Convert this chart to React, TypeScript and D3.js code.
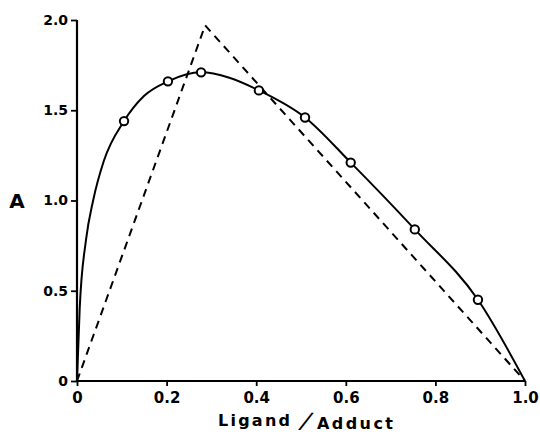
import React, { useEffect, useRef } from 'react'
import * as d3 from 'd3'

// measured points (open circles)
const pointX = [0.105, 0.203, 0.277, 0.406, 0.509, 0.611, 0.754, 0.895]
const pointY = [1.44, 1.66, 1.71, 1.61, 1.46, 1.21, 0.84, 0.45]

// smooth fitted curve
const curveX = [0, 0.006, 0.02, 0.036, 0.06, 0.105, 0.15, 0.203, 0.277, 0.34, 0.406, 0.509, 0.611, 0.754, 0.895, 1.0]
const curveY = [0, 0.4, 0.78, 1.0, 1.22, 1.44, 1.58, 1.66, 1.71, 1.68, 1.61, 1.46, 1.21, 0.84, 0.45, 0]

// extrapolated straight lines (dashed)
const dashX = [0, 0.286, 1.0]
const dashY = [0, 1.97, 0]

const yTicks = [0, 0.5, 1.0, 1.5, 2.0]
const yTickLabels = ['0', '0.5', '1.0', '1.5', '2.0']
const xTicks = [0, 0.2, 0.4, 0.6, 0.8, 1.0]
const xTickLabels = ['0', '0.2', '0.4', '0.6', '0.8', '1.0']

const App: React.FC = () => {
    const svgRef = useRef<SVGSVGElement>(null)
    const width = 540
    const height = 434

    useEffect(() => {
        if (!svgRef.current) return
        const svg = d3.select(svgRef.current)
        svg.selectAll('*').remove()

        const x = d3.scaleLinear().domain([0, 1]).range([77, 525])
        const y = d3.scaleLinear().domain([0, 2]).range([381, 20])
        const font = "'DejaVu Sans', sans-serif"

        // axes
        const yAxis = svg.append('g').attr('transform', `translate(${x(0)},0)`)
            .call(d3.axisLeft(y).tickValues(yTicks).tickSize(6).tickPadding(3)
                .tickFormat((_, i) => yTickLabels[i]))
        const xAxis = svg.append('g').attr('transform', `translate(0,${y(0)})`)
            .call(d3.axisBottom(x).tickValues(xTicks).tickSize(5).tickPadding(6)
                .tickFormat((_, i) => xTickLabels[i]))
        for (const ax of [yAxis, xAxis]) {
            ax.select('.domain').attr('stroke', '#000').attr('stroke-width', 2.2)
            ax.selectAll('.tick line').attr('stroke', '#000').attr('stroke-width', 1.8)
            ax.selectAll('.tick text').attr('fill', '#000')
                .style('font-family', font).style('font-weight', 'bold')
        }
        yAxis.select('.domain').attr('d', `M0,${y(0) + 1}V${y(2)}`)
        xAxis.select('.domain').attr('d', `M${x(0)},0H${x(1)}`)
        yAxis.selectAll('.tick text').style('font-size', '14px')
        xAxis.selectAll('.tick text').style('font-size', '15px')

        // dashed straight lines
        const line = d3.line<number>().x(i => x(dashX[i])).y(i => y(dashY[i]))
        svg.append('path')
            .attr('d', line(d3.range(dashX.length)))
            .attr('fill', 'none').attr('stroke', '#000').attr('stroke-width', 2)
            .attr('stroke-dasharray', '8,6')

        // solid curve
        const curve = d3.line<number>().x(i => x(curveX[i])).y(i => y(curveY[i]))
            .curve(d3.curveMonotoneX)
        svg.append('path')
            .attr('d', curve(d3.range(curveX.length)))
            .attr('fill', 'none').attr('stroke', '#000').attr('stroke-width', 2)

        // circles
        svg.selectAll('circle.pt').data(d3.range(pointX.length)).enter()
            .append('circle').attr('class', 'pt')
            .attr('cx', i => x(pointX[i])).attr('cy', i => y(pointY[i]))
            .attr('r', 4.2).attr('fill', '#fff').attr('stroke', '#000').attr('stroke-width', 2)

        // axis titles
        svg.append('text').attr('x', 17).attr('y', 208).attr('text-anchor', 'middle')
            .style('font-family', font).style('font-weight', 'bold').style('font-size', '20px')
            .text('A')
        svg.append('text').attr('x', 218).attr('y', 426)
            .attr('textLength', 72).attr('lengthAdjust', 'spacing')
            .style('font-family', font).style('font-weight', 'bold').style('font-size', '16px')
            .text('Ligand')
        svg.append('text')
            .attr('transform', 'translate(299,428) skewX(-25)')
            .style('font-family', font).style('font-weight', 'bold').style('font-size', '21px')
            .text('/')
        svg.append('text').attr('x', 317).attr('y', 429)
            .attr('textLength', 76).attr('lengthAdjust', 'spacing')
            .style('font-family', font).style('font-weight', 'bold').style('font-size', '16px')
            .text('Adduct')
    }, [])

    return (
        <svg ref={svgRef} width={width} height={height}
            style={{ position: 'absolute', left: 0, top: 0, background: '#fff' }} />
    )
}

export default App
